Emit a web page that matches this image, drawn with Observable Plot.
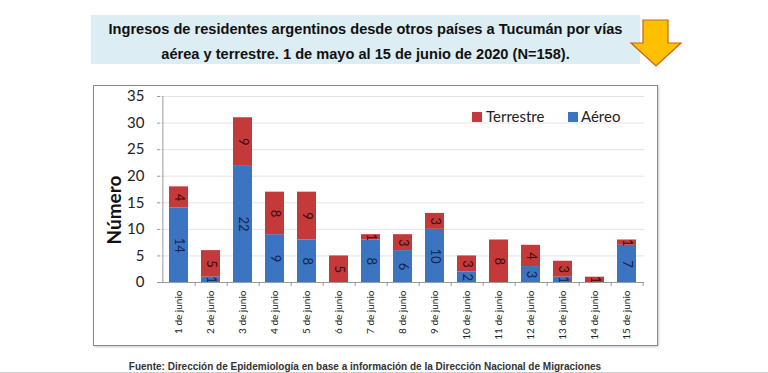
<!DOCTYPE html>
<html><head><meta charset="utf-8">
<script src="https://cdn.jsdelivr.net/npm/d3@7"></script>
<script src="https://cdn.jsdelivr.net/npm/@observablehq/plot@0.6"></script>
<style>
body{margin:0;width:768px;height:373px;overflow:hidden;background:#fff;position:relative;font-family:Lato,sans-serif}
#title{position:absolute;left:91px;top:15px;width:549px;height:49px;background:#DCEDF3;font-family:"Liberation Sans",Arial,sans-serif;font-weight:bold;font-size:14.6px;color:#111;text-align:center;line-height:25px;padding-top:2px;box-sizing:border-box;white-space:nowrap}
#arrow{position:absolute;left:0;top:0}
#frame{position:absolute;left:93px;top:85px;width:563px;height:259px;border:1px solid #8a8a8a;box-shadow:1px 1px 2px #c8c8c8}
#chart{position:absolute;left:93px;top:85px}
#ylabel{position:absolute;left:113px;top:210px;transform:translate(-50%,-50%) rotate(-90deg);font-weight:bold;font-size:19px;color:#111;white-space:nowrap}
.lg{position:absolute;font-size:15px;color:#222;white-space:nowrap}
.sw{position:absolute;width:10px;height:10px}
#caption{position:absolute;left:0;top:362px;width:730px;text-align:center;font-family:"Liberation Sans",Arial,sans-serif;font-weight:bold;font-size:10px;line-height:10px;color:#333;white-space:nowrap}
#bottomline{position:absolute;left:0;top:372px;width:768px;height:1px;background:#cfcfcf}
</style></head><body>
<div id="title">Ingresos de residentes argentinos desde otros países a Tucumán por vías<br>aérea y terrestre. 1 de mayo al 15 de junio de 2020 (N=158).</div>
<svg id="arrow" width="768" height="80"><polygon points="643,20 668,20 668,43 681,43 656,66 631,43 643,43" fill="#FFC000" stroke="#C5621A" stroke-width="1.2"/></svg>
<div id="frame"></div>
<div id="chart"></div>
<div id="ylabel">Número</div>
<div class="sw" style="left:472px;top:112px;background:#C43A3A"></div>
<div class="lg" style="left:486px;top:107px">Terrestre</div>
<div class="sw" style="left:568px;top:112px;background:#3D74C2"></div>
<div class="lg" style="left:581px;top:107px">Aéreo</div>
<div id="caption">Fuente: Dirección de Epidemiología en base a información de la Dirección Nacional de Migraciones</div>
<div id="bottomline"></div>
<script>
const days = ["1 de junio","2 de junio","3 de junio","4 de junio","5 de junio","6 de junio","7 de junio","8 de junio","9 de junio","10 de junio","11 de junio","12 de junio","13 de junio","14 de junio","15 de junio"];
const aereo = [14,1,22,9,8,0,8,6,10,2,0,3,1,0,7];
const terrestre = [4,5,9,8,9,5,1,3,3,3,8,4,3,1,1];
const series = ["Aéreo","Terrestre"];
const yTicks = [0,5,10,15,20,25,30,35];

const barColor = {"Aéreo":"#3D74C2","Terrestre":"#C43A3A"};
const labelColor = {"Aéreo":"#14254a","Terrestre":"#3a0c0c"};

const data = [
  ...days.map((d,i)=>({dia:d,tipo:series[0],n:aereo[i]})),
  ...days.map((d,i)=>({dia:d,tipo:series[1],n:terrestre[i]}))
];

const W=564,H=260,ml=67,mr=13,mt=11,mb=63;
const step=(W-ml-mr)/days.length;

const chart = Plot.plot({
  width:W,height:H,marginLeft:ml,marginRight:mr,marginTop:mt,marginBottom:mb,
  style:{fontFamily:"Lato, sans-serif",background:"transparent",overflow:"visible"},
  x:{domain:days,paddingInner:0.41,paddingOuter:0.205,label:null},
  y:{domain:[0,35],label:null},
  marks:[
    Plot.gridY(yTicks,{stroke:"#e4e4e4",strokeOpacity:1}),
    Plot.barY(data,{x:"dia",y:"n",z:"tipo",fill:d=>barColor[d.tipo]}),
    Plot.text(data,Plot.stackY({filter:d=>d.n>0,x:"dia",y:"n",z:"tipo",text:"n",rotate:90,fontSize:13,fill:d=>labelColor[d.tipo]})),
    Plot.ruleY([0],{stroke:"#9a9a9a"}),
    Plot.ruleX([days[0]],{dx:-step/2,stroke:"#9a9a9a"}),
    Plot.axisY(yTicks,{tickSize:3,tickPadding:13,fontSize:15,fill:"#222",stroke:"#9a9a9a",label:null}),
    Plot.axisX({tickSize:0,tickPadding:8,tickRotate:-90,fontSize:10,fill:"#222",label:null}),
    Plot.axisX({tickSize:4,tickFormat:()=>"",dx:step/2,stroke:"#9a9a9a",label:null})
  ]
});
document.getElementById("chart").appendChild(chart);
</script>
</body></html>
